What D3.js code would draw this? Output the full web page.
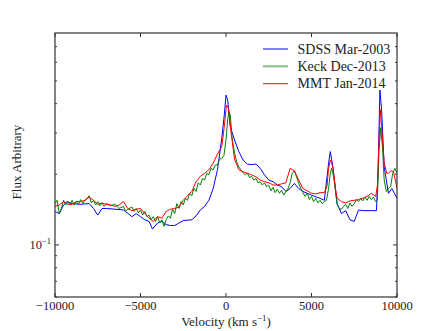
<!DOCTYPE html>
<html><head><meta charset="utf-8">
<script src="https://cdn.jsdelivr.net/npm/d3@7"></script>
<style>
html,body{margin:0;padding:0;background:#fff;}
</style></head>
<body><svg id="c" width="442" height="331"></svg>
<script>
// ---- data (velocity in km/s, flux arbitrary) ----
const sdssV = [-10000,-9750,-9500,-9300,-9000,-8500,-8000,-7750,-7500,-7250,-7000,-6500,-6000,-5500,-5250,-5000,-4750,-4500,-4300,-4000,-3750,-3500,-3250,-3000,-2750,-2500,-2000,-1750,-1500,-1250,-1000,-750,-500,-250,-100,0,100,250,500,750,1000,1250,1500,1750,2000,2250,2500,2750,3000,3250,3500,3750,4000,4250,4500,5000,5500,5750,6000,6100,6250,6500,6750,7000,7250,7500,7750,8000,8500,8800,8900,9000,9100,9250,9500,9700,10000];
const sdssF = [0.139,0.136,0.148,0.153,0.150,0.149,0.150,0.143,0.134,0.143,0.143,0.142,0.141,0.132,0.136,0.132,0.128,0.126,0.117,0.124,0.126,0.122,0.121,0.121,0.124,0.127,0.128,0.133,0.141,0.146,0.155,0.174,0.209,0.283,0.358,0.435,0.414,0.319,0.280,0.250,0.230,0.221,0.220,0.221,0.212,0.199,0.189,0.186,0.180,0.177,0.169,0.174,0.183,0.174,0.169,0.163,0.158,0.155,0.223,0.250,0.215,0.150,0.136,0.140,0.128,0.126,0.141,0.140,0.140,0.140,0.215,0.457,0.375,0.215,0.166,0.174,0.158];

const keckV = [-10000,-9875,-9750,-9625,-9500,-9375,-9250,-9125,-9000,-8875,-8750,-8625,-8500,-8375,-8250,-8125,-8000,-7875,-7750,-7625,-7500,-7375,-7250,-7125,-7000,-6750,-6500,-6250,-6000,-5875,-5750,-5500,-5375,-5250,-5125,-5000,-4875,-4750,-4625,-4500,-4375,-4250,-4125,-4000,-3875,-3750,-3625,-3500,-3375,-3250,-3125,-3000,-2875,-2750,-2625,-2500,-2375,-2250,-2125,-2000,-1875,-1750,-1625,-1500,-1375,-1250,-1125,-1000,-875,-750,-625,-500,-375,-250,-125,0,100,175,250,350,500,625,750,875,1000,1125,1250,1375,1500,1625,1750,1875,2000,2125,2250,2375,2500,2625,2750,2875,3000,3125,3250,3375,3500,3625,3750,3875,4000,4125,4250,4375,4500,4625,4750,4875,5000,5125,5250,5375,5500,5625,5750,5875,6000,6100,6175,6300,6400,6500,6625,6750,6875,7000,7125,7250,7375,7500,7625,7750,7875,8000,8125,8250,8375,8500,8625,8750,8850,8950,9050,9150,9250,9375,9500,9625,9750,9875,10000];
const keckF = [0.150,0.155,0.136,0.143,0.155,0.148,0.153,0.148,0.155,0.148,0.153,0.149,0.156,0.150,0.155,0.158,0.162,0.151,0.155,0.148,0.153,0.147,0.151,0.146,0.150,0.147,0.149,0.143,0.146,0.139,0.142,0.145,0.139,0.143,0.137,0.141,0.134,0.139,0.132,0.134,0.128,0.132,0.126,0.132,0.124,0.128,0.120,0.128,0.133,0.130,0.142,0.136,0.150,0.143,0.153,0.148,0.158,0.155,0.166,0.162,0.174,0.169,0.184,0.180,0.192,0.189,0.202,0.199,0.212,0.209,0.219,0.219,0.232,0.234,0.240,0.280,0.345,0.369,0.357,0.289,0.246,0.226,0.215,0.209,0.203,0.199,0.202,0.194,0.196,0.189,0.192,0.184,0.186,0.180,0.184,0.177,0.180,0.170,0.176,0.167,0.173,0.166,0.171,0.163,0.169,0.174,0.184,0.202,0.207,0.195,0.183,0.174,0.167,0.161,0.166,0.156,0.161,0.153,0.158,0.151,0.155,0.150,0.153,0.155,0.174,0.202,0.212,0.195,0.169,0.149,0.143,0.142,0.146,0.149,0.143,0.151,0.146,0.150,0.156,0.153,0.158,0.154,0.160,0.155,0.161,0.156,0.160,0.153,0.155,0.254,0.316,0.262,0.189,0.169,0.174,0.177,0.202,0.212,0.202];

const mmtV = [-10000,-9750,-9500,-9250,-9000,-8750,-8500,-8250,-8000,-7750,-7500,-7250,-7000,-6750,-6500,-6250,-6000,-5750,-5500,-5250,-5000,-4750,-4500,-4250,-4000,-3750,-3500,-3250,-3000,-2750,-2500,-2250,-2000,-1750,-1500,-1250,-1000,-750,-500,-250,-100,25,150,300,500,750,1000,1250,1500,1750,2000,2250,2500,2750,3000,3250,3500,3750,4000,4250,4500,4750,5000,5250,5500,5750,5900,6000,6100,6250,6400,6500,6750,7000,7250,7500,7750,8000,8250,8500,8750,8850,8950,9025,9100,9250,9400,9500,9650,9800,10000];
const mmtF = [0.146,0.148,0.153,0.149,0.149,0.153,0.153,0.155,0.160,0.155,0.149,0.151,0.149,0.148,0.146,0.148,0.153,0.143,0.140,0.142,0.143,0.136,0.130,0.126,0.132,0.130,0.139,0.142,0.143,0.145,0.155,0.162,0.169,0.186,0.196,0.202,0.209,0.223,0.244,0.262,0.319,0.394,0.381,0.299,0.232,0.209,0.205,0.202,0.199,0.195,0.189,0.186,0.184,0.180,0.180,0.182,0.184,0.212,0.207,0.189,0.174,0.170,0.166,0.165,0.167,0.167,0.177,0.212,0.230,0.215,0.174,0.158,0.153,0.151,0.154,0.155,0.156,0.158,0.161,0.166,0.161,0.177,0.280,0.377,0.319,0.223,0.202,0.202,0.207,0.205,0.174];

const seriesNames = ["SDSS Mar-2003","Keck Dec-2013","MMT Jan-2014"];
const seriesColors = ["#0000ff","#008000","#ff0000"];
const legendColors = ["#0000ff","#80c080","#ff0000"];
const xTicks = [-10000,-5000,0,5000,10000];
const yMajor = [0.1];
const yMinor = [0.06,0.07,0.08,0.09,0.2,0.3,0.4,0.5,0.6,0.7];

// ---- layout ----
const FONT = "\"Liberation Serif\"";
const L=55, R=397, T=33, B=297;
const svg = d3.select("#c");
const x = d3.scaleLinear().domain([-10000,10000]).range([L,R]);
const y = d3.scaleLog().domain([0.06,0.8]).range([B,T]);

svg.append("clipPath").attr("id","clp").append("rect")
  .attr("x",L).attr("y",T).attr("width",R-L).attr("height",B-T);

const series = [[sdssV,sdssF],[keckV,keckF],[mmtV,mmtF]];
const line = d3.line().x(d=>x(d[0])).y(d=>y(d[1]));
const g = svg.append("g").attr("clip-path","url(#clp)");
series.forEach((s,i)=>{
  const pts = s[0].map((v,j)=>[v,s[1][j]]);
  g.append("path").attr("d",line(pts)).attr("fill","none")
   .attr("stroke",seriesColors[i]).attr("stroke-width",1).attr("stroke-linejoin","round");
});

// frame
svg.append("rect").attr("x",L).attr("y",T).attr("width",R-L).attr("height",B-T)
  .attr("fill","none").attr("stroke","#333").attr("stroke-width",1.2);

// ticks (inside, all sides)
const tk = svg.append("g").attr("stroke","#333").attr("stroke-width",1);
xTicks.forEach(v=>{
  tk.append("line").attr("x1",x(v)).attr("x2",x(v)).attr("y1",B).attr("y2",B-4);
  tk.append("line").attr("x1",x(v)).attr("x2",x(v)).attr("y1",T).attr("y2",T+4);
});
yMajor.forEach(v=>{
  tk.append("line").attr("x1",L).attr("x2",L+4).attr("y1",y(v)).attr("y2",y(v));
  tk.append("line").attr("x1",R).attr("x2",R-4).attr("y1",y(v)).attr("y2",y(v));
});
yMinor.forEach(v=>{
  tk.append("line").attr("x1",L).attr("x2",L+2).attr("y1",y(v)).attr("y2",y(v));
  tk.append("line").attr("x1",R).attr("x2",R-2).attr("y1",y(v)).attr("y2",y(v));
});

function txt(sel){ return sel.append("text").style("font-family",FONT).attr("fill","#222"); }

// x tick labels
xTicks.forEach(v=>{
  txt(svg).attr("x",x(v)).attr("y",309.5).attr("text-anchor","middle")
    .attr("font-size","12.5px").text(v<0?"\u2212"+Math.abs(v):String(v));
});
// y tick label 10^-1
yMajor.forEach(v=>{
  const t = txt(svg).attr("x",51).attr("y",y(v)+4).attr("text-anchor","end")
    .attr("font-size","12.5px");
  t.append("tspan").text("10");
  t.append("tspan").attr("dy",-5).attr("font-size","8.5px").text("\u22121");
});

// axis labels
const xl = txt(svg).attr("x",226).attr("y",326).attr("text-anchor","middle").attr("font-size","13px");
xl.append("tspan").text("Velocity (km s");
xl.append("tspan").attr("dy",-5).attr("font-size","9px").text("\u22121");
xl.append("tspan").attr("dy",5).text(")");

txt(svg).attr("transform","translate(21,162) rotate(-90)").attr("text-anchor","middle")
  .attr("font-size","13px").text("Flux Arbitrary");

// legend
const legY = [49,66.3,83.7];
seriesNames.forEach((n,i)=>{
  svg.append("line").attr("x1",263).attr("x2",288).attr("y1",legY[i]).attr("y2",legY[i])
    .attr("stroke",legendColors[i]).attr("stroke-width",i===1?2:1);
  txt(svg).attr("x",297.5).attr("y",legY[i]+4.5).attr("font-size","14px").text(n);
});
</script></body></html>
